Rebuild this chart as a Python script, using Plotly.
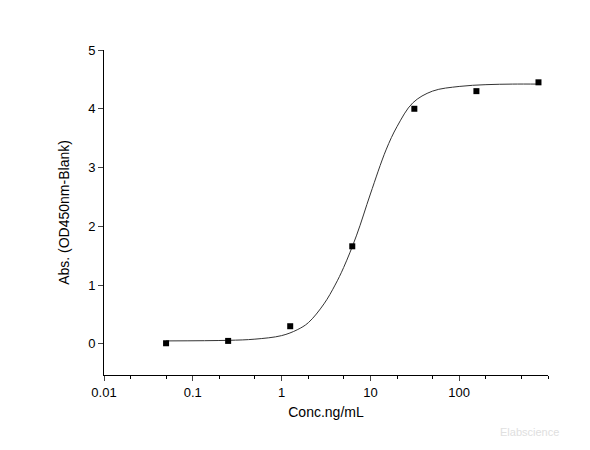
import plotly.graph_objects as go

conc = [0.05, 0.25, 1.25, 6.25, 31.25, 156.25, 781.25]
absorb = [0.01, 0.05, 0.30, 1.66, 4.00, 4.30, 4.45]

# fitted curve
fit_x = [0.05, 0.25, 0.5, 1, 1.5, 2, 3, 4, 5, 7, 10, 15, 20, 30, 50, 100, 200, 400, 781.25]
fit_y = [0.05, 0.06, 0.08, 0.14, 0.24, 0.36, 0.68, 1.0, 1.3, 1.85, 2.55, 3.3, 3.7, 4.1, 4.3, 4.38, 4.41, 4.42, 4.42]

fig = go.Figure()
fig.add_trace(go.Scatter(x=fit_x, y=fit_y, mode="lines", line=dict(color="#333", width=1, shape="spline")))
fig.add_trace(go.Scatter(x=conc, y=absorb, mode="markers",
                         marker=dict(symbol="square", size=6, color="black")))

fig.update_layout(
    width=590, height=450, showlegend=False,
    plot_bgcolor="white", paper_bgcolor="white",
    margin=dict(l=96, r=50, t=42, b=83),
    font=dict(family="Liberation Sans, Arial", size=13, color="black"),
)
fig.update_xaxes(type="log", range=[-2, 3], showgrid=False, showline=True, linecolor="black",
                 ticks="outside", ticklen=5, tickvals=[0.01, 0.1, 1, 10, 100],
                 ticktext=["0.01", "0.1", "1", "10", "100"],
                 minor=dict(ticks="outside", ticklen=3, tickcolor="black", showgrid=False),
                 title=dict(text="Conc.ng/mL", font=dict(size=14), standoff=8), zeroline=False)
fig.update_yaxes(range=[-0.53, 5], showgrid=False, showline=True, linecolor="black",
                 ticks="outside", ticklen=5, dtick=1, zeroline=False,
                 title=dict(text="Abs. (OD450nm-Blank)", font=dict(size=14)))
fig.add_annotation(text="Elabscience", x=1.03, y=-0.2, xref="paper", yref="paper",
                   showarrow=False, font=dict(size=11, color="#e0e0e0"))

fig.write_html("out.html")
